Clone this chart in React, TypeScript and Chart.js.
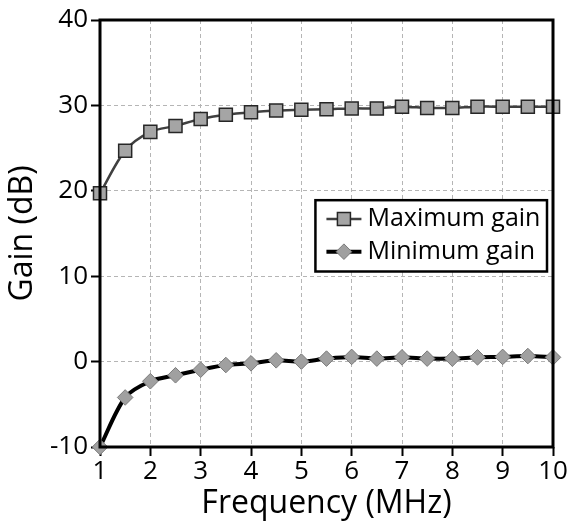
import React, { useEffect, useRef } from "react";
import { Chart, registerables } from "chart.js";

Chart.register(...registerables);

const frequencies = [1, 1.5, 2, 2.5, 3, 3.5, 4, 4.5, 5, 5.5, 6, 6.5, 7, 7.5, 8, 8.5, 9, 9.5, 10];
const maxGain = [19.7, 24.7, 26.9, 27.6, 28.4, 28.9, 29.2, 29.4, 29.5, 29.55, 29.65, 29.65, 29.85, 29.7, 29.7, 29.85, 29.85, 29.85, 29.85];
const minGain = [-10, -4.2, -2.3, -1.6, -0.95, -0.4, -0.2, 0.15, 0.0, 0.35, 0.55, 0.35, 0.5, 0.35, 0.35, 0.5, 0.55, 0.65, 0.5];
const seriesLabels = ["Maximum gain", "Minimum gain"];
const xTitle = "Frequency (MHz)";
const yTitle = "Gain (dB)";

const FONT = "'Open Sans', sans-serif";

function drawMarker(ctx: CanvasRenderingContext2D, style: string, x: number, y: number, r: number) {
  ctx.beginPath();
  if (style === "rect") {
    const s = Math.SQRT1_2 * r;
    ctx.rect(x - s, y - s, 2 * s, 2 * s);
  } else {
    ctx.moveTo(x - r, y);
    ctx.lineTo(x, y - r);
    ctx.lineTo(x + r, y);
    ctx.lineTo(x, y + r);
    ctx.closePath();
  }
  ctx.fill();
  ctx.stroke();
}

const framePlugin = {
  id: "frame",
  afterDatasetsDraw(chart: any) {
    const { ctx, chartArea } = chart;
    ctx.save();
    ctx.strokeStyle = "#000";
    ctx.lineWidth = 3;
    ctx.strokeRect(chartArea.left, chartArea.top, chartArea.right - chartArea.left, chartArea.bottom - chartArea.top);
    ctx.restore();
  },
};

const legendPlugin = {
  id: "insideLegend",
  afterDraw(chart: any) {
    const { ctx, chartArea } = chart;
    const xs = chart.scales.x;
    const ys = chart.scales.y;
    const left = xs.getPixelForValue(5.28);
    const right = chartArea.right - 6;
    const top = ys.getPixelForValue(18.9);
    const bottom = ys.getPixelForValue(10.55);
    ctx.save();
    ctx.fillStyle = "#fff";
    ctx.fillRect(left, top, right - left, bottom - top);
    ctx.strokeStyle = "#000";
    ctx.lineWidth = 2.5;
    ctx.strokeRect(left, top, right - left, bottom - top);
    const rowH = (bottom - top) / 2;
    chart.data.datasets.forEach((ds: any, i: number) => {
      const cy = top + rowH * (i + 0.5) + (i === 0 ? 1 : -2);
      const lx0 = left + 11;
      const lx1 = left + 46;
      ctx.strokeStyle = ds.borderColor;
      ctx.lineWidth = ds.borderWidth;
      ctx.beginPath();
      ctx.moveTo(lx0, cy);
      ctx.lineTo(lx1, cy);
      ctx.stroke();
      ctx.fillStyle = ds.pointBackgroundColor;
      ctx.strokeStyle = ds.pointBorderColor;
      ctx.lineWidth = ds.pointBorderWidth;
      drawMarker(ctx, ds.pointStyle, (lx0 + lx1) / 2, cy, ds.pointRadius);
      ctx.fillStyle = "#000";
      ctx.font = `25px ${FONT}`;
      ctx.textBaseline = "middle";
      ctx.textAlign = "left";
      ctx.fillText(ds.label, lx1 + 6, cy);
    });
    ctx.restore();
  },
};

export default function App() {
  const canvasRef = useRef<HTMLCanvasElement | null>(null);

  useEffect(() => {
    document.body.style.margin = "0";
    const canvas = canvasRef.current;
    if (!canvas) return;
    const gridOpts: any = {
      color: "#b5b5b5",
      lineWidth: 1,
      tickLength: 9,
      tickColor: "#000",
      tickWidth: 2,
      tickBorderDash: [],
    };
    const chart = new Chart(canvas, {
      type: "line",
      data: {
        datasets: [
          {
            label: seriesLabels[0],
            data: frequencies.map((f, i) => ({ x: f, y: maxGain[i] })),
            borderColor: "#404040",
            borderWidth: 2.5,
            pointStyle: "rect",
            pointRadius: 9.2,
            pointBackgroundColor: "#a5a5a5",
            pointBorderColor: "#262626",
            pointBorderWidth: 1.5,
            tension: 0.3,
          },
          {
            label: seriesLabels[1],
            data: frequencies.map((f, i) => ({ x: f, y: minGain[i] })),
            borderColor: "#000000",
            borderWidth: 4,
            pointStyle: "rectRot",
            pointRadius: 7.8,
            pointBackgroundColor: "#a0a0a0",
            pointBorderColor: "#7a7a7a",
            pointBorderWidth: 1,
            tension: 0.3,
          },
        ] as any,
      },
      options: {
        animation: false,
        responsive: false,
        clip: false as any,
        layout: { padding: { left: 0, right: 17, top: 20, bottom: 0 } },
        plugins: { legend: { display: false }, tooltip: { enabled: false } },
        scales: {
          x: {
            type: "linear",
            min: 1,
            max: 10,
            border: { display: false, dash: [4, 3] },
            ticks: { stepSize: 1, color: "#000", font: { family: FONT, size: 26 }, padding: 0, maxRotation: 0 },
            grid: gridOpts,
            title: { display: true, text: xTitle, color: "#000", font: { family: FONT, size: 32 }, padding: { top: 0, bottom: 0 } },
            afterFit(scale: any) {
              scale.height = 76;
            },
          },
          y: {
            type: "linear",
            min: -10,
            max: 40,
            border: { display: false, dash: [4, 3] },
            ticks: { stepSize: 10, color: "#000", font: { family: FONT, size: 26 }, padding: 3 },
            grid: gridOpts,
            title: { display: true, text: yTitle, color: "#000", font: { family: FONT, size: 32 }, padding: { top: 4, bottom: 0 } },
            afterFit(scale: any) {
              scale.width = 100;
            },
          },
        },
      } as any,
      plugins: [framePlugin, legendPlugin],
    });
    return () => chart.destroy();
  }, []);

  return (
    <div style={{ position: "absolute", left: 0, top: 0, width: 570, height: 523, background: "#fff" }}>
      <canvas ref={canvasRef} width={570} height={523} style={{ display: "block", width: 570, height: 523 }} />
    </div>
  );
}
